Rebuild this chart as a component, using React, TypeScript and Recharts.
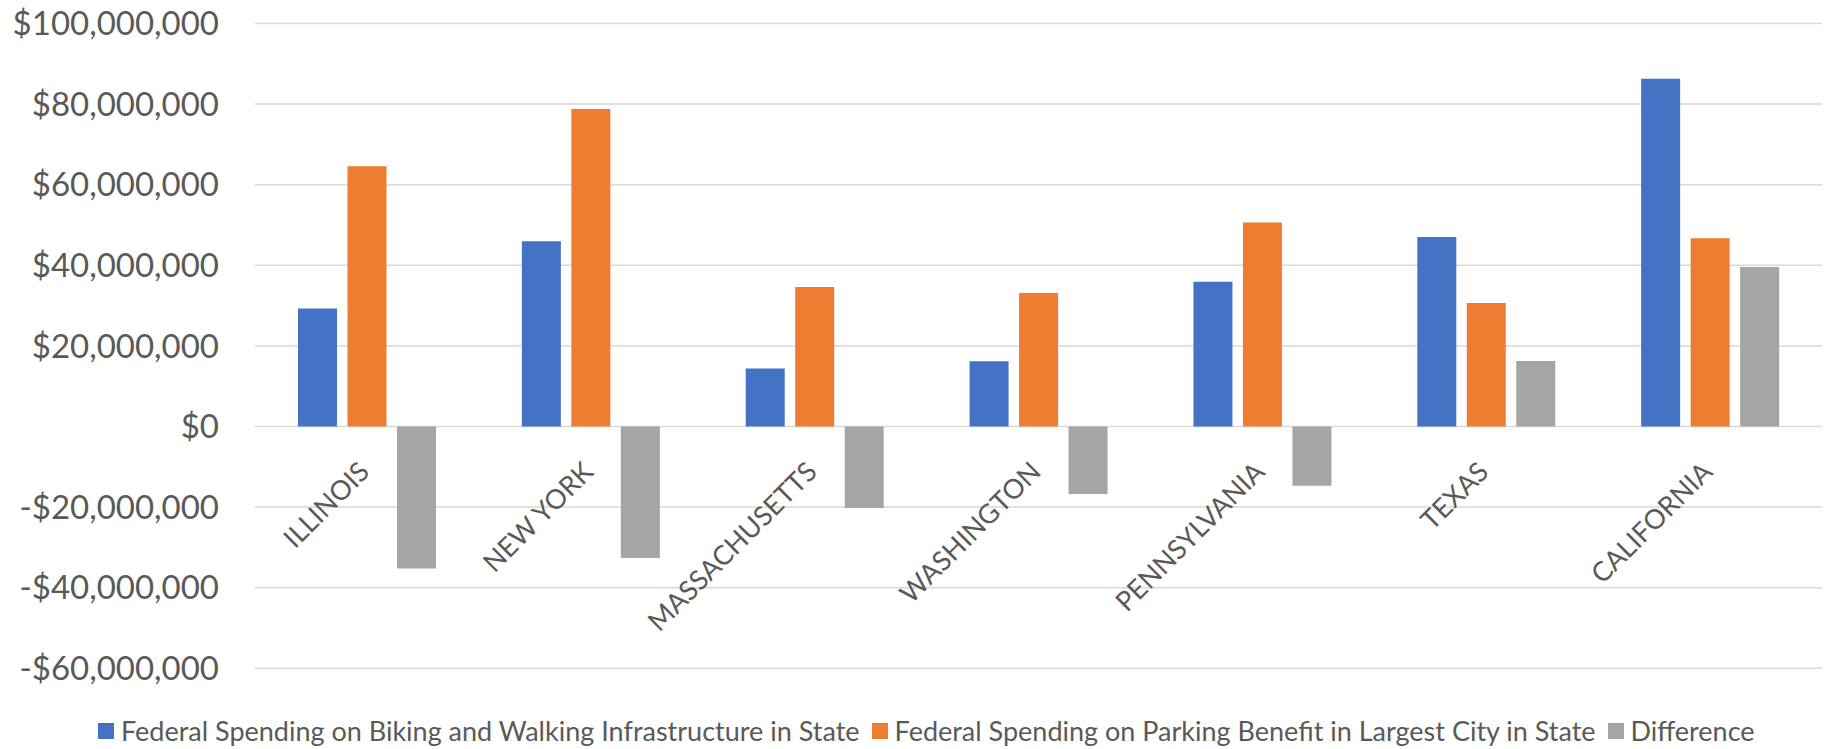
import React from 'react';
import { BarChart, Bar, XAxis, YAxis, CartesianGrid, Legend } from 'recharts';

const states = ['ILLINOIS', 'NEW YORK', 'MASSACHUSETTS', 'WASHINGTON', 'PENNSYLVANIA', 'TEXAS', 'CALIFORNIA'];
const bikingWalking = [29260000, 45960000, 14420000, 16200000, 35900000, 47000000, 86300000];
const parkingBenefit = [64570000, 78800000, 34600000, 33150000, 50600000, 30670000, 46700000];
const difference = [-35260000, -32600000, -20200000, -16750000, -14700000, 16250000, 39550000];
const yTicks = [-60000000, -40000000, -20000000, 0, 20000000, 40000000, 60000000, 80000000, 100000000];

const seriesNames = [
  'Federal Spending on Biking and Walking Infrastructure in State',
  'Federal Spending on Parking Benefit in Largest City in State',
  'Difference',
];
const seriesColors = ['#4472C4', '#ED7D31', '#A5A5A5'];

const data = states.map((s, i) => ({
  state: s,
  biking: bikingWalking[i],
  parking: parkingBenefit[i],
  diff: difference[i],
}));

const W = 1826;
const H = 749;
const X_AXIS_H = 30;
const MARGIN = { top: 23.5, right: 4, bottom: 80.7 - X_AXIS_H, left: 0 };
const Y_MIN = -60000000;
const Y_MAX = 100000000;
const PLOT_H = H - MARGIN.top - MARGIN.bottom - X_AXIS_H;
const ZERO_Y = MARGIN.top + PLOT_H * (Y_MAX / (Y_MAX - Y_MIN));
const FONT = 'Lato, "Liberation Sans", sans-serif';
const TEXT_COLOR = '#595959';

const fmt = (v: number) => {
  const abs = Math.abs(v).toLocaleString('en-US');
  return (v < 0 ? '-$' : '$') + abs;
};

const XTick = (props: any) => {
  const { x, payload } = props;
  const ax = x + 4;
  const ay = ZERO_Y + 47;
  return (
    <text
      x={ax}
      y={ay}
      textAnchor="end"
      transform={`rotate(-45 ${ax} ${ay})`}
      fill={TEXT_COLOR}
      fontSize={27}
      fontFamily={FONT}
    >
      {payload.value}
    </text>
  );
};

const LegendContent = () => (
  <div
    style={{
      display: 'flex',
      alignItems: 'center',
      paddingLeft: 98,
      fontFamily: FONT,
      fontSize: 27,
      color: TEXT_COLOR,
      whiteSpace: 'nowrap',
    }}
  >
    {seriesNames.map((n, i) => (
      <div key={n} style={{ display: 'flex', alignItems: 'center', marginRight: 12 }}>
        <div style={{ width: 16, height: 16, background: seriesColors[i], marginRight: 7 }} />
        <span>{n}</span>
      </div>
    ))}
  </div>
);

export default function App() {
  return (
    <div style={{ position: 'absolute', left: 0, top: 0, width: W, height: H, background: '#fff' }}>
      <BarChart width={W} height={H} data={data} margin={MARGIN} barSize={39} barGap={10.5}>
        <CartesianGrid vertical={false} stroke="#D9D9D9" strokeWidth={1.5} />
        <XAxis
          dataKey="state"
          axisLine={false}
          tickLine={false}
          height={X_AXIS_H}
          interval={0}
          tick={<XTick />}
        />
        <YAxis
          width={255}
          domain={[Y_MIN, Y_MAX]}
          ticks={yTicks}
          tickFormatter={fmt}
          axisLine={false}
          tickLine={false}
          tickSize={0}
          tickMargin={36}
          tick={{ fill: TEXT_COLOR, fontSize: 33, fontFamily: FONT }}
          interval={0}
        />
        <Legend
          layout="horizontal"
          verticalAlign="middle"
          align="center"
          content={<LegendContent />}
          wrapperStyle={{ top: 714, left: 0, width: W }}
        />
        <Bar dataKey="biking" name={seriesNames[0]} fill={seriesColors[0]} isAnimationActive={false} />
        <Bar dataKey="parking" name={seriesNames[1]} fill={seriesColors[1]} isAnimationActive={false} />
        <Bar dataKey="diff" name={seriesNames[2]} fill={seriesColors[2]} isAnimationActive={false} />
      </BarChart>
    </div>
  );
}
